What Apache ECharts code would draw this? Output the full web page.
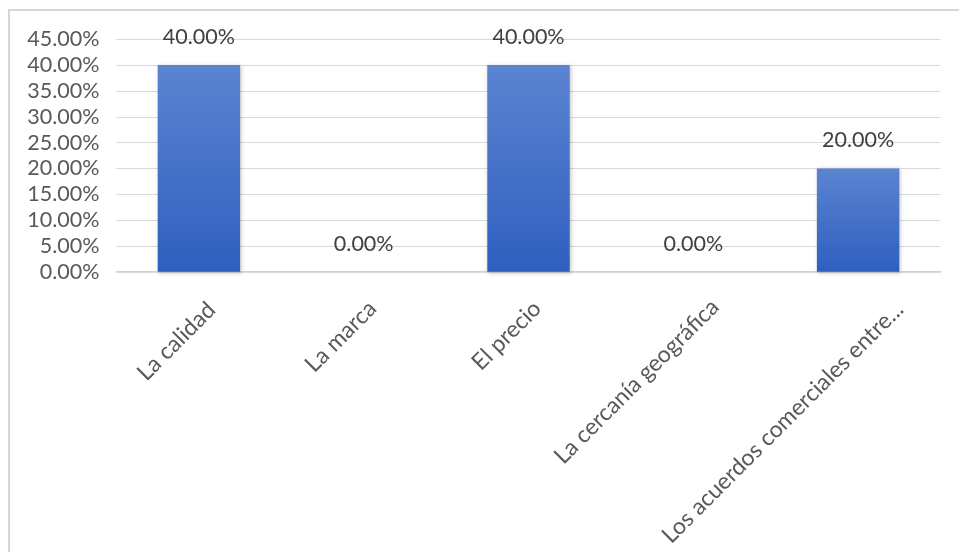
<!DOCTYPE html>
<html>
<head>
<meta charset="utf-8">
<script src="https://cdn.jsdelivr.net/npm/echarts@6/dist/echarts.min.js"></script>
<style>
html,body{margin:0;padding:0;background:#fff;}
#c{width:959px;height:552px;}
</style>
</head>
<body>
<div id="c"></div>
<script>
const categories = ['La calidad', 'La marca', 'El precio', 'La cercanía geográfica', 'Los acuerdos comerciales entre...'];
const values = [0.40, 0.00, 0.40, 0.00, 0.20];
const yTicks = { min: 0, max: 0.45, interval: 0.05 };

// label placement styling (kept separate from data)
const labelPadRight = [1.2, 3, 3, -7.4, -19.5];
const labelLineHeight = [38.5, 31, 31, 47, 78.4];

const pct = v => (v * 100).toFixed(2) + '%';
const FONT = 'Lato, "Open Sans", sans-serif';

const chart = echarts.init(document.getElementById('c'), null, { renderer: 'canvas' });
chart.setOption({
  animation: false,
  backgroundColor: '#ffffff',
  graphic: [{
    type: 'rect',
    silent: true,
    shape: { x: 9, y: 10, width: 1200, height: 800 },
    style: { fill: 'none', stroke: '#d6d6d6', lineWidth: 2 },
    z: -10
  }],
  grid: { left: 116.5, right: 18.5, top: 39.3, bottom: 280.3, containLabel: false, outerBoundsMode: 'none' },
  xAxis: {
    type: 'category',
    data: categories.map((c, i) => ({
      value: c,
      textStyle: { padding: [0, labelPadRight[i], 0, 0], lineHeight: labelLineHeight[i] }
    })),
    axisLine: { show: true, lineStyle: { color: '#d0d0d0', width: 1.5 } },
    axisTick: { show: false },
    axisLabel: {
      rotate: 45,
      interval: 0,
      margin: 20,
      formatter: v => '\n' + v,
      color: '#595959',
      fontSize: 23,
      fontFamily: FONT
    }
  },
  yAxis: {
    type: 'value',
    min: yTicks.min,
    max: yTicks.max,
    interval: yTicks.interval,
    axisLine: { show: false },
    axisTick: { show: false },
    splitLine: { lineStyle: { color: '#d9d9d9', width: 1 } },
    axisLabel: {
      formatter: v => pct(v),
      showMinLabel: true,
      showMaxLabel: true,
      margin: 17,
      color: '#595959',
      fontSize: 21.5,
      fontFamily: FONT
    }
  },
  series: [{
    type: 'bar',
    data: values,
    barWidth: '50%',
    itemStyle: {
      color: new echarts.graphic.LinearGradient(0, 0, 0, 1, [
        { offset: 0, color: '#5b84d1' },
        { offset: 1, color: '#2f5fbf' }
      ]),
      shadowBlur: 4,
      shadowColor: 'rgba(0,0,0,0.25)',
      shadowOffsetX: 1,
      shadowOffsetY: 1
    },
    label: {
      show: true,
      position: 'top',
      distance: 17,
      formatter: p => pct(p.value),
      color: '#404040',
      fontSize: 21.5,
      fontFamily: FONT
    }
  }]
});
</script>
</body>
</html>
